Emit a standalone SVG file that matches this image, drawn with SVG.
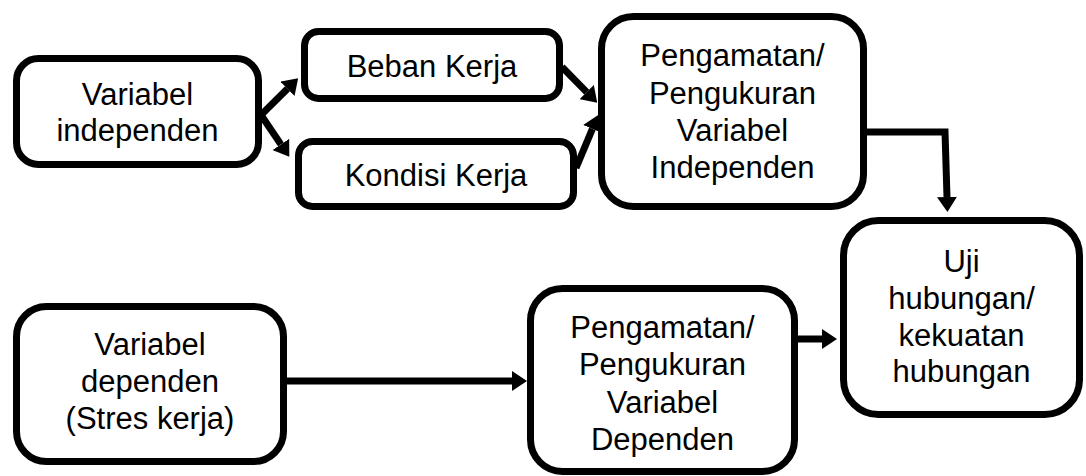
<svg xmlns="http://www.w3.org/2000/svg" width="1086" height="476" viewBox="0 0 1086 476">
<defs>
<style>
.box{fill:#fff;stroke:#000;stroke-width:7}
.t{font-family:"Liberation Sans",Arial,sans-serif;font-size:31px;fill:#000;text-anchor:middle}
.c{fill:none;stroke:#000;stroke-width:7}
</style>
<marker id="ah" viewBox="0 0 15 20" refX="0" refY="10" markerWidth="15" markerHeight="20" orient="auto" markerUnits="userSpaceOnUse">
<path d="M0,0 L15,10 L0,20 z" fill="#000"/>
</marker>
</defs>
<rect width="1086" height="476" fill="#fff"/>
<g id="connectors">
<path class="c" d="M261,115 L287.5,88.8" marker-end="url(#ah)"/>
<path class="c" d="M261,115 L280.9,144.4" marker-end="url(#ah)"/>
<path class="c" d="M562,67 L586.7,92.1" marker-end="url(#ah)"/>
<path class="c" d="M576,168 L592.4,128.9" marker-end="url(#ah)"/>
<path class="c" d="M866,132 L945,132 L947,197" marker-end="url(#ah)"/>
<path class="c" d="M286,381 L512,381" marker-end="url(#ah)"/>
<path class="c" d="M797,339 L822,339" marker-end="url(#ah)"/>
</g>
<g id="n1"><rect class="box" x="16.5" y="58.5" width="242" height="106" rx="22"/>
<text class="t" x="137.5" y="105">Variabel</text><text class="t" x="137.5" y="141">independen</text></g>
<g id="n2"><rect class="box" x="304.5" y="31.5" width="255" height="67" rx="14"/>
<text class="t" x="432" y="77">Beban Kerja</text></g>
<g id="n3"><rect class="box" x="298.5" y="141.5" width="275" height="65" rx="14"/>
<text class="t" x="436" y="186">Kondisi Kerja</text></g>
<g id="n4"><rect class="box" x="601.5" y="16.5" width="262" height="190" rx="32"/>
<text class="t" x="732.5" y="66">Pengamatan/</text><text class="t" x="732.5" y="104">Pengukuran</text><text class="t" x="732.5" y="141">Variabel</text><text class="t" x="732.5" y="178">Independen</text></g>
<g id="n5"><rect class="box" x="843.5" y="220.5" width="236" height="194" rx="35"/>
<text class="t" x="961.5" y="272">Uji</text><text class="t" x="961.5" y="309">hubungan/</text><text class="t" x="961.5" y="346">kekuatan</text><text class="t" x="961.5" y="382">hubungan</text></g>
<g id="n6"><rect class="box" x="16.5" y="306.5" width="267" height="155" rx="30"/>
<text class="t" x="150" y="355">Variabel</text><text class="t" x="150" y="392">dependen</text><text class="t" x="150" y="429">(Stres kerja)</text></g>
<g id="n7"><rect class="box" x="530.5" y="288.5" width="264" height="183" rx="32"/>
<text class="t" x="662.5" y="338">Pengamatan/</text><text class="t" x="662.5" y="375">Pengukuran</text><text class="t" x="662.5" y="413">Variabel</text><text class="t" x="662.5" y="450">Dependen</text></g>
</svg>
